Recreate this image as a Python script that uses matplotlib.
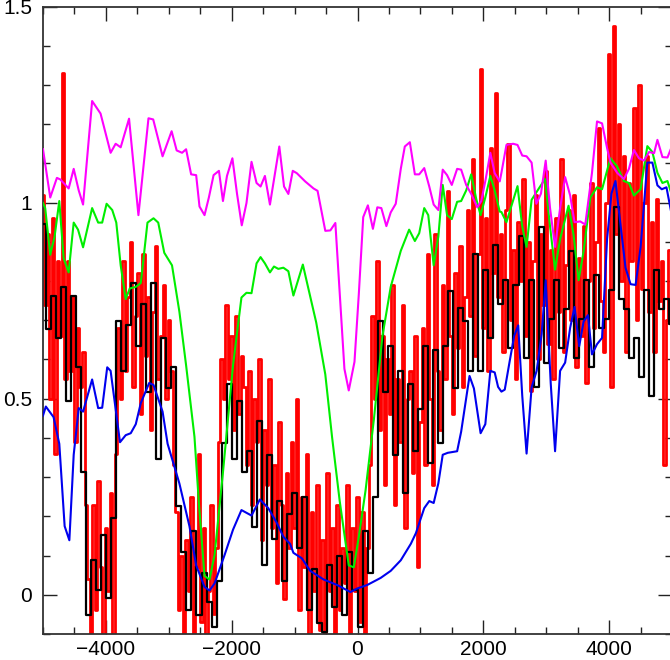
import numpy as np
import matplotlib
matplotlib.use("Agg")
import matplotlib.pyplot as plt
from matplotlib.ticker import MultipleLocator

# ── data ─────────────────────────────────────────────────────────────────────
# black: coarse step spectrum, 80 units per bin starting at -5000
black_x0, black_dx = -5000, 80
black_y = [
    0.945, 0.677, 0.763, 0.656, 0.785, 0.495, 0.763, 0.581, 0.313, -0.051,
    0.088, 0.013, 0.152, -0.008, 0.195, 0.699, 0.570, 0.688, 0.795, 0.635,
    0.742, 0.517, 0.795, 0.345, 0.656, 0.527, 0.581, 0.227, 0.110, -0.040,
    0.163, -0.051, 0.056, -0.019, -0.083, 0.035, 0.388, 0.538, 0.345, 0.495,
    0.313, 0.367, 0.174, 0.442, 0.077, 0.356, 0.142, 0.238, 0.035, 0.206,
    0.260, 0.120, 0.249, -0.040, 0.067, -0.073, -0.094, 0.077, -0.030, 0.099,
    -0.051, 0.110, 0.013, -0.083, 0.163, 0.056, 0.249, 0.699, 0.517, 0.635,
    0.356, 0.570, 0.260, 0.538, 0.367, 0.474, 0.635, 0.335, 0.624, 0.388,
    0.635, 0.774, 0.527, 0.731, 0.699, 0.570, 0.870, 0.570, 0.827, 0.656,
    0.892, 0.742, 0.803, 0.629, 0.790, 0.914, 0.605, 0.803, 0.530, 0.939,
    0.592, 0.704, 0.803, 0.629, 0.728, 0.877, 0.605, 0.704, 0.803, 0.580,
    0.815, 0.679, 0.704, 0.778, 0.988, 0.753, 0.728, 0.605, 0.654, 0.555,
    0.778, 0.506, 0.827, 0.728, 0.753, 0.691,
]

# red: fine step spectrum, 40 units per bin starting at -5000
red_x0, red_dx = -5000, 40
red_y = [
    1.02, 0.74, 0.92, 0.50, 0.96, 0.36, 0.85, 0.66, 1.33, 0.55,
    0.85, 0.57, 0.76, 0.39, 0.68, 0.53, 0.62, 0.23, 0.04, -0.12,
    0.23, -0.04, 0.29, 0.07, -0.15, 0.17, 0.01, 0.26, -0.15, 0.36,
    0.68, 0.50, 0.85, 0.57, 0.76, 0.90, 0.53, 0.71, 0.82, 0.46,
    0.87, 0.61, 0.76, 0.42, 0.72, 0.89, 0.55, 0.66, 0.79, 0.50,
    0.70, 0.57, 0.33, 0.21, -0.04, 0.10, -0.18, 0.14, 0.01, 0.25,
    -0.15, 0.07, 0.36, -0.07, 0.17, -0.20, 0.01, 0.23, -0.05, 0.12,
    0.39, 0.60, 0.50, 0.74, 0.55, 0.66, 0.42, 0.71, 0.46, 0.61,
    0.53, 0.33, 0.57, 0.23, 0.50, 0.39, 0.60, 0.14, 0.42, 0.28,
    0.55, 0.17, 0.33, 0.03, 0.44, 0.23, -0.01, 0.31, 0.12, 0.39,
    0.17, 0.50, -0.04, 0.25, 0.07, 0.36, -0.15, 0.21, 0.01, 0.28,
    -0.09, 0.14, -0.18, 0.31, 0.01, 0.17, -0.20, 0.23, -0.04, 0.12,
    0.03, 0.28, -0.15, 0.17, 0.01, 0.25, -0.07, 0.21, -0.18, 0.12,
    0.33, 0.71, 0.50, 0.85, 0.42, 0.66, 0.28, 0.60, 0.46, 0.79,
    0.23, 0.55, 0.39, 0.74, 0.17, 0.50, 0.57, 0.31, 0.66, 0.07,
    0.44, 0.68, 0.33, 0.87, 0.50, 0.28, 0.92, 0.57, 0.42, 0.79,
    0.55, 1.03, 0.66, 0.46, 0.82, 0.63, 0.89, 0.53, 0.76, 0.98,
    0.71, 1.11, 0.61, 0.87, 1.34, 0.68, 0.96, 0.57, 1.14, 0.82,
    1.28, 0.76, 0.92, 0.62, 0.98, 1.15, 0.70, 0.88, 0.55, 0.95,
    0.80, 1.06, 0.66, 0.90, 0.52, 0.85, 1.02, 0.60, 0.92, 0.74,
    1.08, 0.64, 0.88, 0.55, 0.96, 0.72, 1.11, 0.62, 0.84, 0.98,
    0.70, 1.02, 0.58, 0.86, 0.66, 0.94, 0.54, 0.80, 1.05, 0.68,
    0.90, 1.19, 0.75, 0.62, 1.00, 1.38, 0.53, 1.45, 0.92, 1.20,
    0.80, 1.12, 0.62, 1.05, 0.85, 1.24, 0.70, 1.30, 0.78, 1.00,
    1.12, 0.72, 0.95, 0.62, 1.01, 0.75, 0.85, 0.33, 0.70, 0.88,
    0.78,
]

# magenta model
mag_x = [-5000, -4885, -4779, -4725, -4592, -4512, -4432, -4363, -4219, -4085,
         -3925, -3845, -3765, -3632, -3483, -3323, -3248, -3099, -2955, -2875,
         -2789, -2725, -2645, -2565, -2512, -2432, -2363, -2288, -2203, -2139,
         -2075, -1989, -1915, -1840, -1765, -1685, -1605, -1541, -1472, -1392,
         -1243, -1168, -1099, -1029, -965, -832, -699, -635, -512, -432,
         -352, -208, -139, -48, 21, 91, 165, 245, 315, 379,
         459, 528, 608, 688, 752, 832, 912, 981, 1061, 1141,
         1211, 1285, 1355, 1424, 1499, 1584, 1648, 1728, 1808, 1904,
         1968, 2037, 2112, 2181, 2261, 2288, 2368, 2475, 2544, 2619,
         2688, 2768, 2843, 2917, 2992, 3061, 3141, 3221, 3301, 3381,
         3451, 3541, 3621, 3728, 3808, 3888, 3968, 4021, 4128, 4235,
         4315, 4395, 4475, 4555, 4635, 4715, 4768, 4848, 4928, 5000]
mag_y = [1.136, 1.013, 1.063, 1.059, 1.036, 1.086, 1.031, 0.995, 1.259, 1.227,
         1.127, 1.150, 1.141, 1.214, 0.968, 1.215, 1.212, 1.118, 1.182, 1.133,
         1.127, 1.136, 1.072, 1.070, 0.990, 0.968, 1.013, 1.070, 1.081, 1.004,
         1.068, 1.113, 1.022, 0.942, 0.999, 1.104, 1.050, 1.041, 1.068, 0.995,
         1.143, 1.041, 1.022, 1.081, 1.075, 1.054, 1.036, 1.030, 0.928, 0.929,
         0.948, 0.576, 0.521, 0.594, 0.767, 0.963, 0.993, 0.933, 0.988, 0.986,
         0.940, 0.975, 0.997, 1.086, 1.143, 1.154, 1.072, 1.072, 1.088, 1.041,
         0.995, 0.981, 1.084, 1.070, 1.045, 1.086, 1.084, 1.045, 1.022, 0.988,
         1.004, 1.059, 1.127, 1.075, 1.054, 1.076, 1.147, 1.150, 1.147, 1.120,
         1.118, 1.102, 0.997, 1.023, 1.107, 0.986, 0.887, 0.986, 1.065, 1.018,
         0.950, 0.952, 0.944, 1.076, 1.207, 1.202, 1.139, 1.102, 1.076, 1.060,
         1.086, 1.134, 1.113, 1.107, 1.129, 1.126, 1.160, 1.116, 1.115, 1.144]

# green model
grn_x = [-5000, -4965, -4885, -4816, -4741, -4672, -4592, -4512, -4443, -4363,
         -4219, -4123, -4059, -3989, -3899, -3835, -3765, -3685, -3621, -3525,
         -3445, -3339, -3243, -3168, -3072, -2949, -2832, -2725, -2592, -2520,
         -2432, -2352, -2272, -2139, -1979, -1845, -1765, -1685, -1605, -1541,
         -1472, -1392, -1328, -1259, -1179, -1099, -1019, -869, -656, -512,
         -405, -283, -139, -59, 21, 128, 261, 395, 528, 688,
         821, 912, 981, 1061, 1125, 1211, 1285, 1355, 1424, 1499,
         1584, 1648, 1728, 1808, 1888, 1957, 2032, 2112, 2181, 2261,
         2288, 2368, 2448, 2544, 2619, 2688, 2768, 2875, 2981, 3061,
         3141, 3221, 3355, 3435, 3515, 3595, 3701, 3808, 3888, 4021,
         4128, 4235, 4315, 4395, 4501, 4608, 4688, 4768, 4848, 4928,
         5000]
grn_y = [0.999, 0.986, 0.867, 0.913, 1.004, 0.858, 0.822, 0.949, 0.931, 0.886,
         0.986, 0.949, 0.949, 0.997, 0.981, 0.949, 0.840, 0.754, 0.781, 0.785,
         0.795, 0.949, 0.960, 0.949, 0.872, 0.840, 0.722, 0.585, 0.403, 0.230,
         0.048, 0.039, 0.102, 0.312, 0.585, 0.758, 0.770, 0.769, 0.845, 0.861,
         0.845, 0.822, 0.837, 0.831, 0.834, 0.825, 0.763, 0.842, 0.694, 0.562,
         0.403, 0.239, 0.075, 0.070, 0.148, 0.266, 0.448, 0.658, 0.785, 0.877,
         0.931, 0.902, 0.922, 0.986, 0.968, 0.840, 0.913, 1.045, 0.968, 0.958,
         1.002, 1.004, 1.031, 1.072, 1.009, 0.968, 1.013, 1.068, 1.031, 0.977,
         0.976, 0.950, 0.992, 1.042, 0.939, 0.887, 1.007, 1.034, 1.060, 0.939,
         0.829, 0.907, 0.992, 0.918, 0.802, 0.876, 1.013, 1.039, 1.034, 1.113,
         1.092, 1.055, 1.050, 1.018, 1.034, 1.144, 1.129, 1.076, 1.050, 1.055,
         1.018]

# blue model
blu_x = [-5000, -4955, -4832, -4741, -4656, -4581, -4512, -4432, -4363, -4219,
         -4123, -4059, -3979, -3925, -3776, -3685, -3605, -3525, -3445, -3312,
         -3243, -3099, -3019, -2832, -2672, -2565, -2432, -2352, -2272, -2112,
         -1979, -1845, -1685, -1552, -1419, -1285, -1179, -1072, -1019, -885,
         -752, -539, -325, -112, -5, 155, 368, 528, 688, 848,
         928, 1061, 1141, 1211, 1285, 1355, 1435, 1584, 1648, 1781,
         1851, 1957, 2032, 2112, 2181, 2235, 2288, 2341, 2421, 2491,
         2555, 2619, 2688, 2768, 2848, 2928, 2992, 3072, 3141, 3221,
         3301, 3381, 3451, 3525, 3595, 3664, 3728, 3808, 3888, 3968,
         4037, 4101, 4181, 4261, 4341, 4421, 4501, 4608, 4688, 4768,
         4837, 4912, 5000]
blu_y = [0.457, 0.480, 0.453, 0.385, 0.175, 0.139, 0.357, 0.476, 0.467, 0.549,
         0.476, 0.477, 0.580, 0.571, 0.389, 0.407, 0.412, 0.435, 0.489, 0.540,
         0.535, 0.467, 0.385, 0.284, 0.175, 0.075, 0.020, 0.011, 0.029, 0.102,
         0.166, 0.216, 0.202, 0.243, 0.221, 0.184, 0.148, 0.130, 0.107, 0.093,
         0.061, 0.039, 0.025, 0.007, 0.016, 0.025, 0.043, 0.061, 0.088, 0.130,
         0.157, 0.221, 0.239, 0.234, 0.284, 0.357, 0.362, 0.366, 0.416, 0.558,
         0.526, 0.412, 0.435, 0.571, 0.567, 0.530, 0.518, 0.523, 0.597, 0.660,
         0.687, 0.508, 0.360, 0.529, 0.571, 0.665, 0.802, 0.539, 0.366, 0.571,
         0.592, 0.681, 0.734, 0.634, 0.697, 0.713, 0.613, 0.639, 0.655, 0.907,
         1.023, 1.055, 0.944, 0.834, 0.792, 0.790, 0.887, 1.102, 1.102, 1.044,
         1.034, 1.039, 0.965]

# ── figure ───────────────────────────────────────────────────────────────────
plt.rcParams['font.family'] = ['Liberation Sans', 'DejaVu Sans']

fig = plt.figure(figsize=(6.7, 6.6), dpi=100)
# right spine sits just outside the canvas, as in the reference
ax = fig.add_axes([43 / 670, 26 / 660, 629 / 670, 627.5 / 660])

red_x = red_x0 + red_dx * np.arange(len(red_y))
black_x = black_x0 + black_dx * np.arange(len(black_y))

ax.step(red_x, red_y, where="mid", color="#ff0000", lw=2.0, zorder=2)
ax.step(black_x, black_y, where="mid", color="black", lw=1.6, zorder=3)
ax.plot(grn_x, grn_y, color="#00ee00", lw=1.5, zorder=4)
ax.plot(blu_x, blu_y, color="#0000ee", lw=1.5, zorder=5)
ax.plot(mag_x, mag_y, color="#ff00ff", lw=1.5, zorder=6)

ax.set_xlim(-5000, 5000)
ax.set_ylim(-0.1, 1.5)

ax.xaxis.set_major_locator(MultipleLocator(2000))
ax.xaxis.set_minor_locator(MultipleLocator(500))
ax.yaxis.set_major_locator(MultipleLocator(0.5))
ax.yaxis.set_minor_locator(MultipleLocator(0.1))
ax.yaxis.set_major_formatter(plt.FuncFormatter(lambda v, p: f"{v:g}"))

ax.tick_params(which="both", direction="in", top=True, right=True,
               colors="#222222", labelcolor="black", labelsize=15, width=1.0)
ax.tick_params(which="major", length=10)
ax.tick_params(which="minor", length=5)
ax.tick_params(axis="x", which="major", pad=4)
ax.tick_params(axis="y", which="major", pad=8)
for s in ax.spines.values():
    s.set_linewidth(1.3)
    s.set_color("#333333")

fig.savefig("out.png", dpi=100)
